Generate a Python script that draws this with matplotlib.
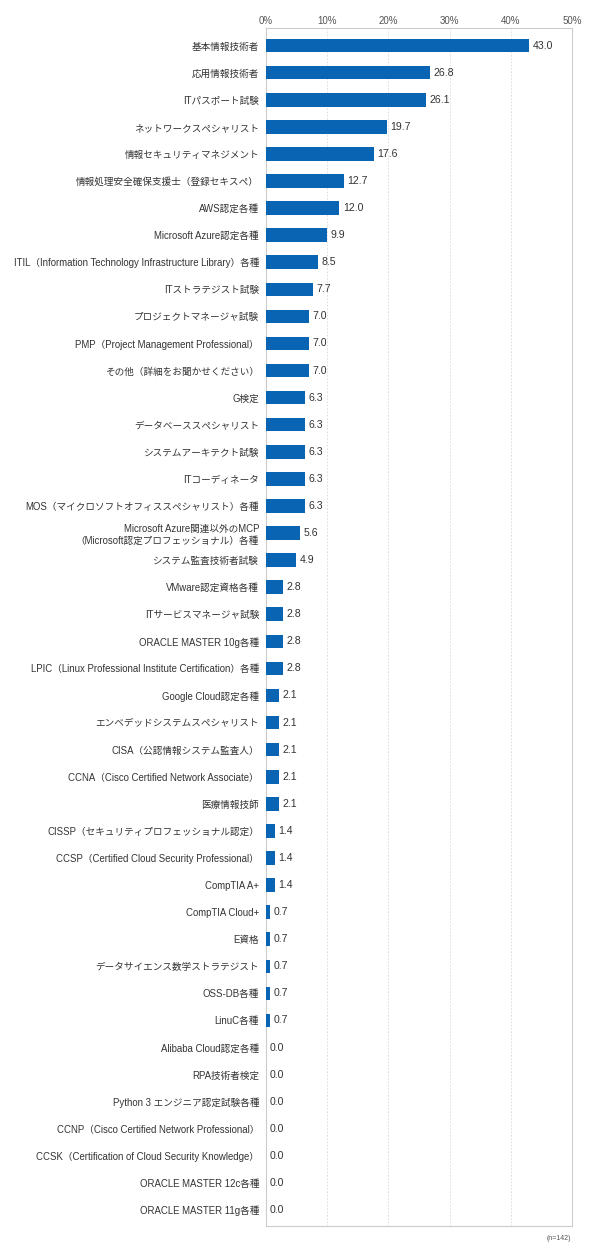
import matplotlib.pyplot as plt
import numpy as np

plt.rcParams['font.family'] = ['Liberation Sans', 'Noto Sans CJK JP', 'DejaVu Sans']

# 資格名と割合(%)
labels = [
    "基本情報技術者",
    "応用情報技術者",
    "ITパスポート試験",
    "ネットワークスペシャリスト",
    "情報セキュリティマネジメント",
    "情報処理安全確保支援士（登録セキスペ）",
    "AWS認定各種",
    "Microsoft Azure認定各種",
    "ITIL（Information Technology Infrastructure Library）各種",
    "ITストラテジスト試験",
    "プロジェクトマネージャ試験",
    "PMP（Project Management Professional）",
    "その他（詳細をお聞かせください）",
    "G検定",
    "データベーススペシャリスト",
    "システムアーキテクト試験",
    "ITコーディネータ",
    "MOS（マイクロソフトオフィススペシャリスト）各種",
    "Microsoft Azure関連以外のMCP\n（Microsoft認定プロフェッショナル）各種",
    "システム監査技術者試験",
    "VMware認定資格各種",
    "ITサービスマネージャ試験",
    "ORACLE MASTER 10g各種",
    "LPIC（Linux Professional Institute Certification）各種",
    "Google Cloud認定各種",
    "エンベデッドシステムスペシャリスト",
    "CISA（公認情報システム監査人）",
    "CCNA（Cisco Certified Network Associate）",
    "医療情報技師",
    "CISSP（セキュリティプロフェッショナル認定）",
    "CCSP（Certified Cloud Security Professional）",
    "CompTIA A+",
    "CompTIA Cloud+",
    "E資格",
    "データサイエンス数学ストラテジスト",
    "OSS-DB各種",
    "LinuC各種",
    "Alibaba Cloud認定各種",
    "RPA技術者検定",
    "Python 3 エンジニア認定試験各種",
    "CCNP（Cisco Certified Network Professional）",
    "CCSK（Certification of Cloud Security Knowledge）",
    "ORACLE MASTER 12c各種",
    "ORACLE MASTER 11g各種",
]
values = [43.0, 26.8, 26.1, 19.7, 17.6, 12.7, 12.0, 9.9, 8.5, 7.7,
          7.0, 7.0, 7.0, 6.3, 6.3, 6.3, 6.3, 6.3, 5.6, 4.9,
          2.8, 2.8, 2.8, 2.8, 2.1, 2.1, 2.1, 2.1, 2.1, 1.4,
          1.4, 1.4, 0.7, 0.7, 0.7, 0.7, 0.7, 0.0, 0.0, 0.0,
          0.0, 0.0, 0.0, 0.0]
ticks = [0, 10, 20, 30, 40, 50]
n_note = "(n=142)"

bar_color = '#0a64b4'
grid_color = '#d9d9d9'

fig = plt.figure(figsize=(5.9, 12.57), dpi=100)
ax = fig.add_axes([0.4508, 0.0247, 0.5186, 0.953])

y = np.arange(len(labels))
ax.barh(y, values, height=0.5, color=bar_color, zorder=3)

for yi, v in zip(y, values):
    ax.text(v + 0.6, yi, f"{v:.1f}", va='center', ha='left',
            fontsize=7.6, color='#333333', zorder=4)

ax.set_xlim(0, 50)
ax.set_ylim(len(labels) - 0.41, -0.65)
ax.set_xticks(ticks)
ax.set_xticklabels([f"{t}%" for t in ticks])
ax.xaxis.tick_top()
ax.tick_params(axis='x', length=0, pad=1.5, labelsize=7, labelcolor='#555555')
ax.set_yticks(y)
ax.set_yticklabels(labels, fontsize=6.9, color='#333333', linespacing=1.25)
for t in ax.get_yticklabels():
    t.set_multialignment('right')
ax.tick_params(axis='y', length=0, pad=5)

ax.grid(axis='x', color=grid_color, linestyle=(0, (2, 2)), linewidth=0.6, zorder=0)
for s in ax.spines.values():
    s.set_color('#cccccc')
    s.set_linewidth(0.8)

fig.text(0.968, 0.0148, n_note, ha='right', va='center', fontsize=5, color='#555555')

fig.savefig('out.png', dpi=100)
